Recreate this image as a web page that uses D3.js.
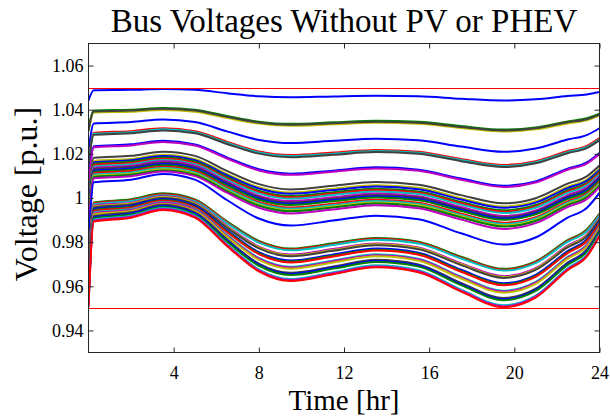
<!DOCTYPE html>
<html>
<head>
<meta charset="utf-8">
<script src="https://cdn.jsdelivr.net/npm/d3@7"></script>
<style>
  html, body { margin: 0; padding: 0; background: #ffffff; }
  svg { display: block; }
</style>
</head>
<body>
<svg id="chart" width="610" height="416"></svg>
<script>
// ---- data ----
const timeHours = [0, 0.25, 2, 3.5, 5, 6.5, 8, 9.5, 11.5, 13.5, 15.5, 17.5, 19.5, 21, 22.5, 23.4, 24];

const v01 = [1.0442, 1.0488, 1.0490, 1.0494, 1.0490, 1.0475, 1.0461, 1.0456, 1.0460, 1.0463, 1.0461, 1.0450, 1.0442, 1.0447, 1.0462, 1.0469, 1.0480];
const v02 = [1.0310, 1.0396, 1.0400, 1.0408, 1.0400, 1.0372, 1.0346, 1.0336, 1.0343, 1.0350, 1.0345, 1.0326, 1.0310, 1.0320, 1.0347, 1.0361, 1.0382];
const v03 = [1.0301, 1.0387, 1.0391, 1.0399, 1.0391, 1.0363, 1.0337, 1.0327, 1.0334, 1.0341, 1.0336, 1.0317, 1.0301, 1.0311, 1.0338, 1.0352, 1.0373];
const v04 = [1.0306, 1.0392, 1.0396, 1.0404, 1.0396, 1.0368, 1.0342, 1.0332, 1.0339, 1.0346, 1.0341, 1.0322, 1.0306, 1.0316, 1.0343, 1.0357, 1.0378];
const v05 = [1.0209, 1.0338, 1.0344, 1.0356, 1.0344, 1.0302, 1.0263, 1.0249, 1.0259, 1.0269, 1.0262, 1.0233, 1.0209, 1.0224, 1.0265, 1.0285, 1.0316];
const v06 = [1.0150, 1.0296, 1.0303, 1.0316, 1.0303, 1.0255, 1.0211, 1.0195, 1.0206, 1.0218, 1.0210, 1.0177, 1.0150, 1.0167, 1.0213, 1.0236, 1.0271];
const v07 = [1.0145, 1.0291, 1.0298, 1.0311, 1.0298, 1.0250, 1.0206, 1.0190, 1.0201, 1.0213, 1.0205, 1.0172, 1.0145, 1.0162, 1.0208, 1.0231, 1.0266];
const v08 = [1.0140, 1.0286, 1.0293, 1.0306, 1.0293, 1.0245, 1.0201, 1.0185, 1.0196, 1.0208, 1.0200, 1.0167, 1.0140, 1.0157, 1.0203, 1.0226, 1.0261];
const v09 = [1.0055, 1.0235, 1.0243, 1.0259, 1.0243, 1.0184, 1.0130, 1.0110, 1.0124, 1.0139, 1.0128, 1.0088, 1.0055, 1.0075, 1.0133, 1.0161, 1.0204];
const v10 = [1.0050, 1.0230, 1.0238, 1.0254, 1.0238, 1.0179, 1.0125, 1.0105, 1.0119, 1.0134, 1.0123, 1.0083, 1.0050, 1.0070, 1.0128, 1.0156, 1.0199];
const v11 = [0.9976, 1.0182, 1.0191, 1.0210, 1.0191, 1.0123, 1.0063, 1.0039, 1.0056, 1.0072, 1.0060, 1.0013, 0.9976, 0.9999, 1.0065, 1.0098, 1.0147];
const v12 = [0.9962, 1.0168, 1.0177, 1.0196, 1.0177, 1.0109, 1.0049, 1.0025, 1.0042, 1.0058, 1.0046, 0.9999, 0.9962, 0.9985, 1.0051, 1.0084, 1.0133];
const v13 = [0.9956, 1.0162, 1.0171, 1.0190, 1.0171, 1.0103, 1.0043, 1.0019, 1.0036, 1.0052, 1.0040, 0.9993, 0.9956, 0.9979, 1.0045, 1.0078, 1.0127];
const v14 = [0.9944, 1.0155, 1.0165, 1.0184, 1.0165, 1.0095, 1.0033, 1.0009, 1.0026, 1.0042, 1.0030, 0.9982, 0.9944, 0.9968, 1.0035, 1.0069, 1.0119];
const v15 = [0.9938, 1.0149, 1.0159, 1.0178, 1.0159, 1.0089, 1.0027, 1.0003, 1.0020, 1.0036, 1.0024, 0.9976, 0.9938, 0.9962, 1.0029, 1.0063, 1.0113];
const v16 = [0.9932, 1.0143, 1.0153, 1.0172, 1.0153, 1.0083, 1.0021, 0.9997, 1.0014, 1.0030, 1.0018, 0.9970, 0.9932, 0.9956, 1.0023, 1.0057, 1.0107];
const v17 = [0.9919, 1.0136, 1.0146, 1.0166, 1.0146, 1.0075, 1.0010, 0.9986, 1.0003, 1.0020, 1.0008, 0.9959, 0.9919, 0.9944, 1.0013, 1.0047, 1.0099];
const v18 = [0.9913, 1.0130, 1.0140, 1.0160, 1.0140, 1.0069, 1.0004, 0.9980, 0.9997, 1.0014, 1.0002, 0.9953, 0.9913, 0.9938, 1.0007, 1.0041, 1.0093];
const v19 = [0.9907, 1.0124, 1.0134, 1.0154, 1.0134, 1.0063, 0.9998, 0.9974, 0.9991, 1.0008, 0.9996, 0.9947, 0.9907, 0.9932, 1.0001, 1.0035, 1.0087];
const v20 = [0.9901, 1.0118, 1.0128, 1.0148, 1.0128, 1.0057, 0.9992, 0.9968, 0.9985, 1.0002, 0.9990, 0.9941, 0.9901, 0.9926, 0.9995, 1.0029, 1.0081];
const v21 = [0.9888, 1.0112, 1.0122, 1.0142, 1.0122, 1.0048, 0.9982, 0.9957, 0.9974, 0.9992, 0.9979, 0.9929, 0.9888, 0.9913, 0.9985, 1.0020, 1.0073];
const v22 = [0.9882, 1.0106, 1.0116, 1.0136, 1.0116, 1.0042, 0.9976, 0.9951, 0.9968, 0.9986, 0.9973, 0.9923, 0.9882, 0.9907, 0.9979, 1.0014, 1.0067];
const v23 = [0.9876, 1.0100, 1.0110, 1.0130, 1.0110, 1.0036, 0.9970, 0.9945, 0.9962, 0.9980, 0.9967, 0.9917, 0.9876, 0.9901, 0.9973, 1.0008, 1.0061];
const v24 = [0.9871, 1.0095, 1.0105, 1.0125, 1.0105, 1.0031, 0.9965, 0.9940, 0.9957, 0.9975, 0.9962, 0.9912, 0.9871, 0.9896, 0.9968, 1.0003, 1.0056];
const v25 = [0.9860, 1.0089, 1.0099, 1.0120, 1.0099, 1.0024, 0.9956, 0.9930, 0.9948, 0.9967, 0.9954, 0.9902, 0.9860, 0.9886, 0.9959, 0.9995, 1.0050];
const v26 = [0.9789, 1.0071, 1.0083, 1.0109, 1.0083, 0.9991, 0.9907, 0.9875, 0.9898, 0.9920, 0.9904, 0.9840, 0.9789, 0.9821, 0.9911, 0.9955, 1.0023];
const v27 = [0.9679, 0.9980, 0.9994, 1.0021, 0.9994, 0.9894, 0.9806, 0.9771, 0.9795, 0.9819, 0.9802, 0.9734, 0.9679, 0.9713, 0.9809, 0.9857, 0.9929];
const v28 = [0.9675, 0.9976, 0.9990, 1.0017, 0.9990, 0.9890, 0.9802, 0.9767, 0.9791, 0.9815, 0.9798, 0.9730, 0.9675, 0.9709, 0.9805, 0.9853, 0.9925];
const v29 = [0.9671, 0.9972, 0.9986, 1.0013, 0.9986, 0.9886, 0.9798, 0.9763, 0.9787, 0.9811, 0.9794, 0.9726, 0.9671, 0.9705, 0.9801, 0.9849, 0.9921];
const v30 = [0.9646, 0.9965, 0.9979, 1.0008, 0.9979, 0.9874, 0.9780, 0.9744, 0.9769, 0.9794, 0.9776, 0.9704, 0.9646, 0.9682, 0.9784, 0.9834, 0.9910];
const v31 = [0.9642, 0.9961, 0.9975, 1.0004, 0.9975, 0.9870, 0.9776, 0.9740, 0.9765, 0.9790, 0.9772, 0.9700, 0.9642, 0.9678, 0.9780, 0.9830, 0.9906];
const v32 = [0.9638, 0.9957, 0.9971, 1.0000, 0.9971, 0.9866, 0.9772, 0.9736, 0.9761, 0.9786, 0.9768, 0.9696, 0.9638, 0.9674, 0.9776, 0.9826, 0.9902];
const v33 = [0.9614, 0.9950, 0.9965, 0.9996, 0.9965, 0.9855, 0.9755, 0.9717, 0.9744, 0.9771, 0.9752, 0.9675, 0.9614, 0.9652, 0.9759, 0.9813, 0.9893];
const v34 = [0.9609, 0.9945, 0.9960, 0.9991, 0.9960, 0.9850, 0.9750, 0.9712, 0.9739, 0.9766, 0.9747, 0.9670, 0.9609, 0.9647, 0.9754, 0.9808, 0.9888];
const v35 = [0.9605, 0.9941, 0.9956, 0.9987, 0.9956, 0.9846, 0.9746, 0.9708, 0.9735, 0.9762, 0.9743, 0.9666, 0.9605, 0.9643, 0.9750, 0.9804, 0.9884];
const v36 = [0.9580, 0.9934, 0.9950, 0.9982, 0.9950, 0.9833, 0.9729, 0.9689, 0.9717, 0.9745, 0.9725, 0.9644, 0.9580, 0.9620, 0.9733, 0.9789, 0.9873];
const v37 = [0.9576, 0.9930, 0.9946, 0.9978, 0.9946, 0.9829, 0.9725, 0.9685, 0.9713, 0.9741, 0.9721, 0.9640, 0.9576, 0.9616, 0.9729, 0.9785, 0.9869];
const v38 = [0.9571, 0.9925, 0.9941, 0.9973, 0.9941, 0.9824, 0.9720, 0.9680, 0.9708, 0.9736, 0.9716, 0.9635, 0.9571, 0.9611, 0.9724, 0.9780, 0.9864];
const v39 = [0.9547, 0.9918, 0.9935, 0.9969, 0.9935, 0.9813, 0.9703, 0.9661, 0.9690, 0.9720, 0.9699, 0.9615, 0.9547, 0.9589, 0.9707, 0.9766, 0.9855];
const v40 = [0.9542, 0.9913, 0.9930, 0.9964, 0.9930, 0.9808, 0.9698, 0.9656, 0.9685, 0.9715, 0.9694, 0.9610, 0.9542, 0.9584, 0.9702, 0.9761, 0.9850];
const v41 = [0.9537, 0.9908, 0.9925, 0.9959, 0.9925, 0.9803, 0.9693, 0.9651, 0.9680, 0.9710, 0.9689, 0.9605, 0.9537, 0.9579, 0.9697, 0.9756, 0.9845];
const v42 = [0.9514, 0.9902, 0.9920, 0.9955, 0.9920, 0.9792, 0.9677, 0.9633, 0.9664, 0.9695, 0.9673, 0.9585, 0.9514, 0.9558, 0.9682, 0.9743, 0.9836];
const v43 = [0.9509, 0.9897, 0.9915, 0.9950, 0.9915, 0.9787, 0.9672, 0.9628, 0.9659, 0.9690, 0.9668, 0.9580, 0.9509, 0.9553, 0.9677, 0.9738, 0.9831];
const v44 = [0.9505, 0.9893, 0.9911, 0.9946, 0.9911, 0.9783, 0.9668, 0.9624, 0.9655, 0.9686, 0.9664, 0.9576, 0.9505, 0.9549, 0.9673, 0.9734, 0.9827];

const busSeries = [v01, v02, v03, v04, v05, v06, v07, v08, v09, v10, v11, v12, v13, v14, v15, v16, v17, v18, v19, v20, v21, v22,
                   v23, v24, v25, v26, v27, v28, v29, v30, v31, v32, v33, v34, v35, v36, v37, v38, v39, v40, v41, v42, v43, v44];
const busColorCodes = ["b","g","y","k","b","r","c","k","b","m","k","y","b","g","r","c","m","k","b","g","r","c",
                       "y","g","m","b","g","r","c","m","y","k","b","g","r","c","m","y","k","b","g","c","m","r"];
const limitValues = [0.95, 1.05];
const xTicks = [4, 8, 12, 16, 20, 24];
const yTicks = [0.94, 0.96, 0.98, 1.00, 1.02, 1.04, 1.06];
const yTickLabels = ["0.94", "0.96", "0.98", "1", "1.02", "1.04", "1.06"];

// ---- styling ----
const palette = { b: "#0000ff", g: "#008000", r: "#ff0000", c: "#00bfbf", m: "#bf00bf", y: "#bfbf00", k: "#404040" };
const plotLeft = 88.5, plotRight = 599.5, plotTop = 43.5, plotBottom = 352.5;
const serif = "'Liberation Serif', 'Times New Roman', Times, serif";

const svg = d3.select("#chart");
svg.append("rect").attr("width", 610).attr("height", 416).attr("fill", "#fff");

const x = d3.scaleLinear().domain([0, 24]).range([plotLeft, plotRight]);
const y = d3.scaleLinear().domain([0.93, 1.07]).range([plotBottom, plotTop]);

svg.append("clipPath").attr("id", "clip")
  .append("rect").attr("x", plotLeft).attr("y", plotTop)
  .attr("width", plotRight - plotLeft).attr("height", plotBottom - plotTop);

const line = d3.line()
  .x((d, i) => x(timeHours[i]))
  .y(d => y(d))
  .curve(d3.curveMonotoneX);

const plot = svg.append("g").attr("clip-path", "url(#clip)");
plot.selectAll("path.bus")
  .data(busSeries)
  .join("path")
  .attr("class", "bus")
  .attr("d", d => line(d))
  .attr("fill", "none")
  .attr("stroke", (d, i) => palette[busColorCodes[i]])
  .attr("stroke-width", 2)
  .attr("stroke-linejoin", "round");

plot.selectAll("line.limit")
  .data(limitValues)
  .join("line")
  .attr("class", "limit")
  .attr("x1", plotLeft).attr("x2", plotRight)
  .attr("y1", d => Math.round(y(d)) + 0.5).attr("y2", d => Math.round(y(d)) + 0.5)
  .attr("stroke", "#ff0000").attr("stroke-width", 1);

// ---- axes ----
const axisColor = "#262626";
function styleAxis(g) {
  g.select(".domain").remove();
  g.selectAll(".tick line").attr("stroke", axisColor);
  g.selectAll("text").attr("font-family", serif).attr("font-size", 18).attr("fill", "#000");
}

svg.append("g").attr("transform", `translate(0,${plotBottom})`)
  .call(d3.axisBottom(x).tickValues(xTicks).tickSize(-5).tickPadding(14).tickFormat(d3.format("d")))
  .call(styleAxis);
svg.append("g").attr("transform", `translate(0,${plotTop})`)
  .call(d3.axisTop(x).tickValues(xTicks).tickSize(-5).tickFormat(""))
  .call(styleAxis);
svg.append("g").attr("transform", `translate(${plotLeft},0)`)
  .call(d3.axisLeft(y).tickValues(yTicks).tickSize(-5).tickPadding(5).tickFormat((d, i) => yTickLabels[i]))
  .call(styleAxis);
svg.append("g").attr("transform", `translate(${plotRight},0)`)
  .call(d3.axisRight(y).tickValues(yTicks).tickSize(-5).tickFormat(""))
  .call(styleAxis);

svg.append("rect")
  .attr("x", plotLeft).attr("y", plotTop).attr("width", plotRight - plotLeft).attr("height", plotBottom - plotTop)
  .attr("fill", "none").attr("stroke", axisColor).attr("stroke-width", 1);

// ---- titles ----
svg.append("text").attr("x", 344).attr("y", 32).attr("text-anchor", "middle")
  .attr("font-family", serif).attr("font-size", 33).attr("fill", "#000")
  .text("Bus Voltages Without PV or PHEV");
svg.append("text").attr("x", 344).attr("y", 409.5).attr("text-anchor", "middle")
  .attr("font-family", serif).attr("font-size", 29).attr("fill", "#000")
  .text("Time [hr]");
svg.append("text").attr("transform", "translate(37,194) rotate(-90)").attr("text-anchor", "middle")
  .attr("font-family", serif).attr("font-size", 32).attr("fill", "#000")
  .text("Voltage [p.u.]");
</script>
</body>
</html>
